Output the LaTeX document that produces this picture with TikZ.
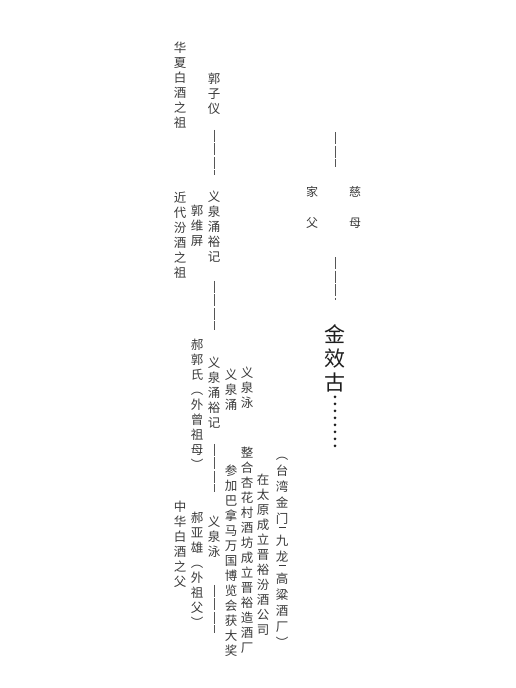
\documentclass[tikz,border=0pt]{standalone}
\usepackage{fontspec}
\newfontfamily\cjk{Noto Sans CJK SC}
\definecolor{inkgray}{HTML}{3A3A3A}
\definecolor{linegray}{HTML}{555555}
\definecolor{inkdark}{HTML}{1E1E1E}
\newcommand{\middot}{\rule[2pt]{7pt}{0.5pt}}

\begin{document}
\begin{tikzpicture}[x=1pt,y=-1pt,
	col/.style={font=\cjk\fontsize{12.5pt}{15pt}\selectfont,text=inkgray,
		align=center,inner sep=0pt,anchor=north},
	widecol/.style={col,font=\cjk\fontsize{12.5pt}{16pt}\selectfont},
	spacedcol/.style={col,font=\cjk\fontsize{12pt}{31pt}\selectfont},
	namecol/.style={col,font=\cjk\fontsize{21pt}{24pt}\selectfont,text=inkdark},
	link/.style={draw=linegray,line width=1pt,dash pattern=on 12pt off 1.5pt}]

	\useasboundingbox[fill=white] (0,0) rectangle (516,688);

	% paternal side
	\node[col] (hxbj) at (180,42) {华\\夏\\白\\酒\\之\\祖};
	\node[col] (gzy) at (214,73) {郭\\子\\仪};
	\node[col] (yqyj1) at (214,191) {义\\泉\\涌\\裕\\记};
	\node[col] (gwp) at (197,205) {郭\\维\\屏};
	\node[col] (jdfj) at (180,192) {近\\代\\汾\\酒\\之\\祖};

	\node[col] (hgs) at (197,339) {郝\\郭\\氏\\︵\\外\\曾\\祖\\母\\︶};
	\node[col] (yqyj2) at (214,357) {义\\泉\\涌\\裕\\记};
	\node[col] (yqy) at (231,369) {义\\泉\\涌};
	\node[col] (yqb1) at (247,367) {义\\泉\\泳};

	\node[col] (zhxh) at (247,447) {整\\合\\杏\\花\\村\\酒\\坊\\成\\立\\晋\\裕\\造\\酒\\厂};
	\node[col] (cjbn) at (231,465) {参\\加\\巴\\拿\\马\\万\\国\\博\\览\\会\\获\\大\\奖};
	\node[col] (ztyc) at (263,474) {在\\太\\原\\成\\立\\晋\\裕\\汾\\酒\\公\\司};
	\node[widecol] (twjm) at (282,457)
		{︵\\台\\湾\\金\\门\\[-10pt]\middot\\九\\龙\\[-10pt]\middot\\高\\粱\\酒\\厂\\︶};

	\node[col] (yqb2) at (214,516) {义\\泉\\泳};
	\node[col] (hyx) at (197,512) {郝\\亚\\雄\\︵\\外\\祖\\父\\︶};
	\node[col] (zhbf) at (180,501) {中\\华\\白\\酒\\之\\父};

	\coordinate (tail) at (214,633);

	\draw[link,shorten <=15pt,shorten >=16pt] (gzy.south) -- (yqyj1.north);
	\draw[link,shorten <=18pt,shorten >=27pt] (yqyj1.south) -- (yqyj2.north);
	\draw[link,shorten <=15pt,shorten >=24pt] (yqyj2.south) -- (yqb2.north);
	\draw[link,shorten <=27pt] (yqb2.south) -- (tail);

	% parents
	\node[spacedcol] (jiafu) at (312,186) {家\\父};
	\node[spacedcol] (cimu) at (355,186) {慈\\母};
	\node[namecol] (jxg) at (335,324) {金\\效\\古};

	\coordinate (ptop) at (335,132);
	\coordinate (pmid) at (335,167);
	\coordinate (pfoot) at (335,257);

	\draw[link] (ptop) -- (pmid);
	\draw[link,shorten >=24pt] (pfoot) -- (jxg.north);

	\foreach \i in {0,...,7}
		\fill[inkdark] (jxg.south) ++(0,5+7*\i) circle (1.5pt);

\end{tikzpicture}
\end{document}
